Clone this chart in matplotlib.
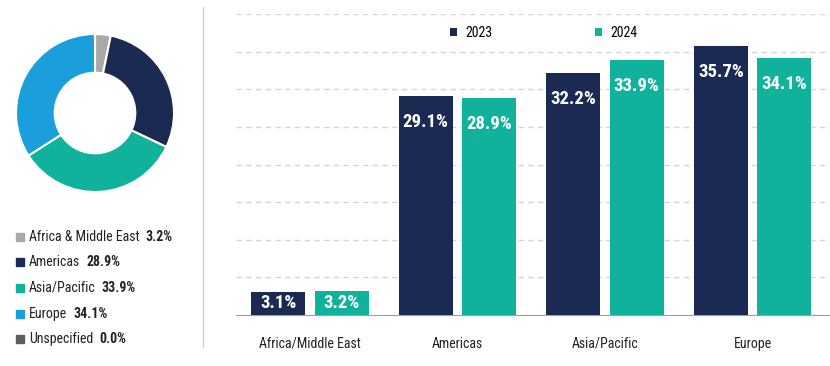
import matplotlib.pyplot as plt
from matplotlib.lines import Line2D

plt.rcParams['font.family'] = ['Roboto Condensed', 'Roboto', 'DejaVu Sans']

# donut data
pie_labels = ['Africa & Middle East', 'Americas', 'Asia/Pacific', 'Europe', 'Unspecified']
pie_values = [3.2, 28.9, 33.9, 34.1, 0.0]
pie_colors = ['#a8a8a8', '#1b2a52', '#10b29b', '#1b9fdc', '#5f5f5f']

# bar data
regions = ['Africa/Middle East', 'Americas', 'Asia/Pacific', 'Europe']
vals_2023 = [3.1, 29.1, 32.2, 35.7]
vals_2024 = [3.2, 28.9, 33.9, 34.1]
years = ['2023', '2024']

navy = '#1b2a52'
teal = '#10b29b'

fig = plt.figure(figsize=(8.3, 3.66), dpi=100)

# Donut
ax_d = fig.add_axes([16 / 830, 173 / 366, 158 / 830, 160 / 366])
ax_d.pie(pie_values, colors=pie_colors, startangle=90, counterclock=False, radius=1,
         wedgeprops=dict(width=0.49, edgecolor='white', linewidth=1.5))
ax_d.set_xlim(-1, 1)
ax_d.set_ylim(-1, 1)
ax_d.set_aspect('equal')

# donut legend
renderer = fig.canvas.get_renderer()
row_y = [237, 262, 288, 314, 339]
for lab, v, c, y in zip(pie_labels, pie_values, pie_colors, row_y):
    fy = 1 - y / 366
    fig.patches.append(plt.Rectangle((16 / 830, fy - 4 / 366), 8 / 830, 8 / 366,
                                     transform=fig.transFigure, color=c))
    t = fig.text(29 / 830, fy, lab, fontsize=10, color='#222222', va='center')
    bb = t.get_window_extent(renderer)
    fig.text(bb.x1 / 830 + 6 / 830, fy, f'{v:.1f}%', fontsize=10, color='#222222',
             fontweight='bold', va='center')

# separator
fig.add_artist(Line2D([203 / 830, 203 / 830], [1 - 347 / 366, 1 - 7 / 366],
                      transform=fig.transFigure, color='#d0d0d0', linewidth=1))

# Bars
ax = fig.add_axes([236 / 830, 1 - 315 / 366, 594 / 830, 301 / 366])
x = range(len(regions))
w = 0.366
off = 0.215
b1 = ax.bar([i - off for i in x], vals_2023, width=w, color=navy, label=years[0], zorder=3)
b2 = ax.bar([i + off for i in x], vals_2024, width=w, color=teal, label=years[1], zorder=3)

for bars in (b1, b2):
    for r in bars:
        h = r.get_height()
        xc = r.get_x() + r.get_width() / 2
        if h > 10:
            ax.annotate(f'{h:.1f}%', (xc, h), xytext=(0, -26), textcoords='offset pixels',
                        ha='center', va='center', color='white', fontsize=13.5,
                        fontweight='bold', zorder=4)
        else:
            ax.text(xc, h / 2, f'{h:.1f}%', ha='center', va='center', color='white',
                    fontsize=13.5, fontweight='bold', zorder=4)

ax.set_xlim(-0.502, 3.525)
ax.set_ylim(0, 40)
ax.set_yticks(range(5, 41, 5))
ax.yaxis.grid(True, linestyle=(0, (4, 3)), color='#d6d6d6', linewidth=1)
ax.set_axisbelow(True)
ax.tick_params(axis='y', left=False, labelleft=False)
ax.tick_params(axis='x', bottom=False, labelsize=10, labelcolor='#222222', pad=12)
ax.set_xticks(list(x))
ax.set_xticklabels(regions)
for s in ['top', 'right', 'left']:
    ax.spines[s].set_visible(False)
ax.spines['bottom'].set_color('#a0a0a0')

ax.legend(loc='upper center', bbox_to_anchor=(0.5175, 1.003), ncol=2, frameon=False,
          fontsize=10, handlelength=0.5, handleheight=0.5, columnspacing=7.4,
          handletextpad=0.6)

fig.savefig('out.png', dpi=100)
